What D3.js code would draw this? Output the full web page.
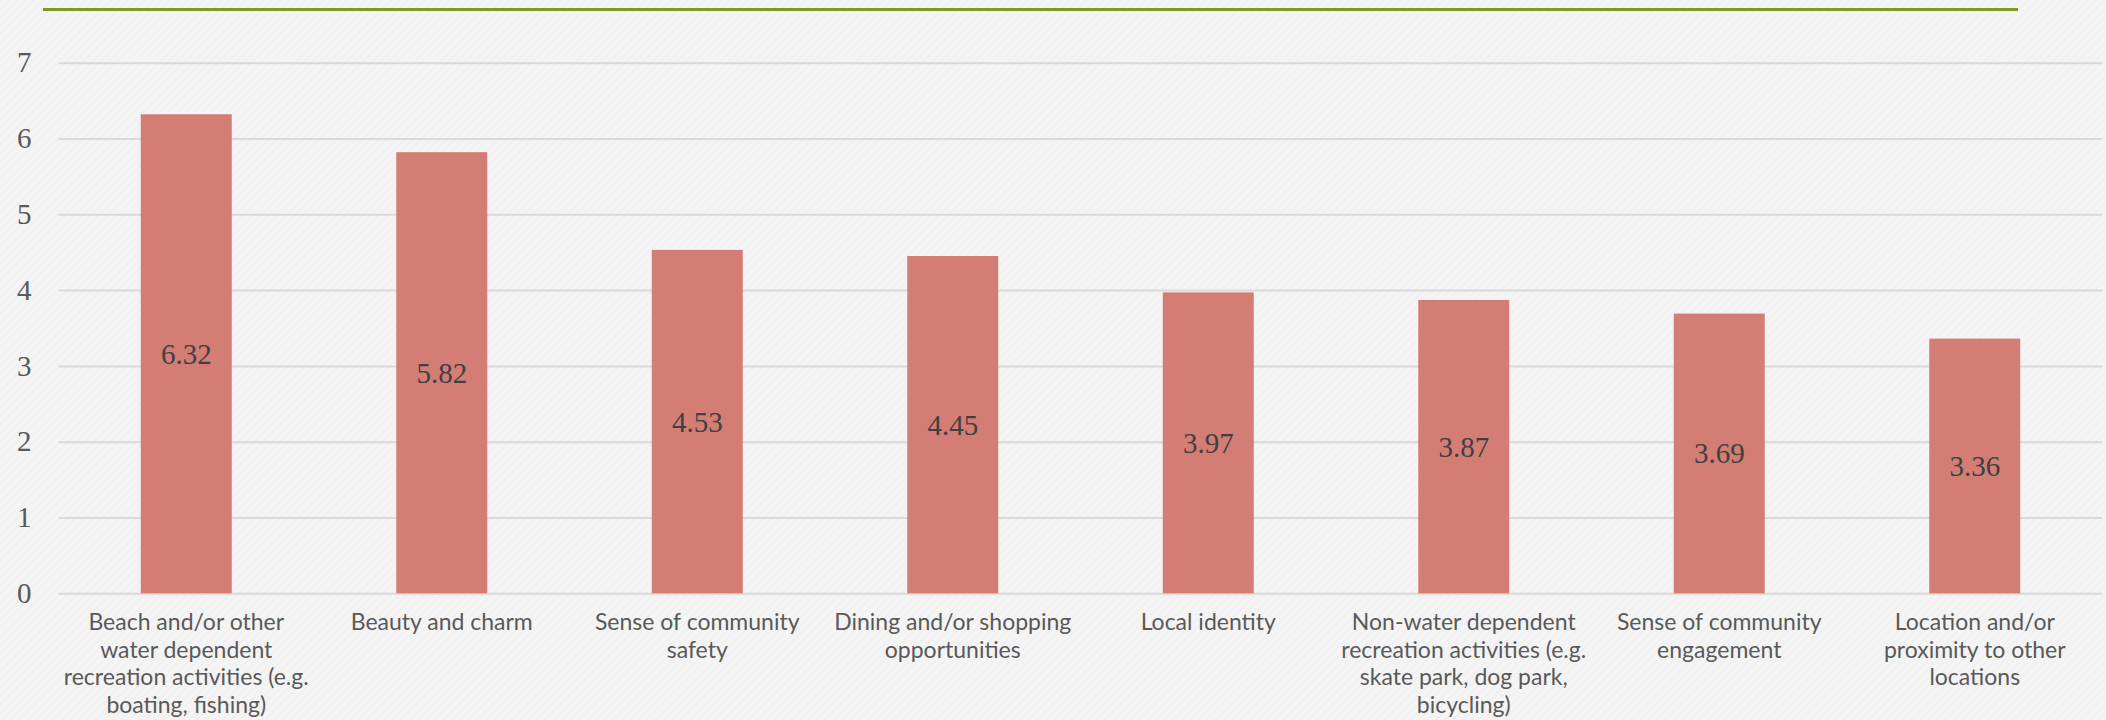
<!DOCTYPE html>
<html>
<head>
<meta charset="utf-8">
<script src="https://cdn.jsdelivr.net/npm/d3@7"></script>
<style>
  html, body { margin: 0; padding: 0; background: #f4f4f4; }
  svg { display: block; }
</style>
</head>
<body>
<svg id="chart" width="2106" height="720"></svg>
<script>
// Category labels, pre-broken into lines
const categoryLines = [
  ["Beach and/or other", "water dependent", "recreation activities (e.g.", "boating, fishing)"],
  ["Beauty and charm"],
  ["Sense of community", "safety"],
  ["Dining and/or shopping", "opportunities"],
  ["Local identity"],
  ["Non-water dependent", "recreation activities (e.g.", "skate park, dog park,", "bicycling)"],
  ["Sense of community", "engagement"],
  ["Location and/or", "proximity to other", "locations"]
];
const categories = categoryLines.map(l => l.join(" "));
const values = [6.32, 5.82, 4.53, 4.45, 3.97, 3.87, 3.69, 3.36];
const yTicks = [0, 1, 2, 3, 4, 5, 6, 7];

const W = 2106, H = 720;
const margin = { left: 58.5, right: 3.5, top: 62.7, bottom: 126.7 };

const svg = d3.select("#chart");

// Paper-like background with faint diagonal grain
const defs = svg.append("defs");
const pat = defs.append("pattern")
  .attr("id", "grain").attr("patternUnits", "userSpaceOnUse")
  .attr("width", 6).attr("height", 6)
  .attr("patternTransform", "rotate(45)");
pat.append("rect").attr("width", 6).attr("height", 6).attr("fill", "#f4f4f4");
pat.append("line").attr("x1", 0).attr("y1", 0).attr("x2", 0).attr("y2", 6)
  .attr("stroke", "#ececec").attr("stroke-width", 1.5);
svg.append("rect").attr("width", W).attr("height", H).attr("fill", "url(#grain)");

// Green accent rule at the top
svg.append("line")
  .attr("x1", 43).attr("x2", 2018).attr("y1", 9.5).attr("y2", 9.5)
  .attr("stroke", "#7f9a24").attr("stroke-width", 3);

const x = d3.scaleBand()
  .domain(categories)
  .range([margin.left, W - margin.right])
  .paddingInner(0.644).paddingOuter(0.322);

const y = d3.scaleLinear()
  .domain([0, 7])
  .range([H - margin.bottom, margin.top]);

// Gridlines
const yAxis = d3.axisLeft(y)
  .tickValues(yTicks)
  .tickSize(-(W - margin.right - margin.left))
  .tickPadding(27)
  .tickFormat(d3.format("d"));

const gy = svg.append("g")
  .attr("transform", `translate(${margin.left},0)`)
  .call(yAxis);
gy.select(".domain").remove();
gy.selectAll(".tick line").attr("stroke", "#d9d9d9").attr("stroke-width", 2);
gy.selectAll(".tick text")
  .attr("fill", "#595959")
  .style("font-family", "'Liberation Serif', 'Times New Roman', serif")
  .style("font-size", "29px");

// Bars
svg.append("g").selectAll("rect")
  .data(values)
  .join("rect")
  .attr("x", (d, i) => x(categories[i]))
  .attr("width", x.bandwidth())
  .attr("y", d => y(d))
  .attr("height", d => y(0) - y(d))
  .attr("fill", "#d47d75");

// Value labels centred in each bar
svg.append("g").selectAll("text")
  .data(values)
  .join("text")
  .attr("x", (d, i) => x(categories[i]) + x.bandwidth() / 2)
  .attr("y", d => (y(d) + y(0)) / 2)
  .attr("text-anchor", "middle")
  .attr("dominant-baseline", "central")
  .attr("fill", "#404040")
  .style("font-family", "'Liberation Serif', 'Times New Roman', serif")
  .style("font-size", "29px")
  .text(d => d3.format(".2f")(d));

// Category labels
const gx = svg.append("g");
categoryLines.forEach((lines, i) => {
  const cx = x(categories[i]) + x.bandwidth() / 2;
  const t = gx.append("text")
    .attr("x", cx)
    .attr("y", y(0) + 37)
    .attr("text-anchor", "middle")
    .attr("fill", "#595959")
    .style("font-family", "Lato, 'Open Sans', sans-serif")
    .style("font-size", "23px");
  lines.forEach((ln, j) => {
    t.append("tspan").attr("x", cx).attr("dy", j === 0 ? 0 : 27.5).text(ln);
  });
});
</script>
</body>
</html>
